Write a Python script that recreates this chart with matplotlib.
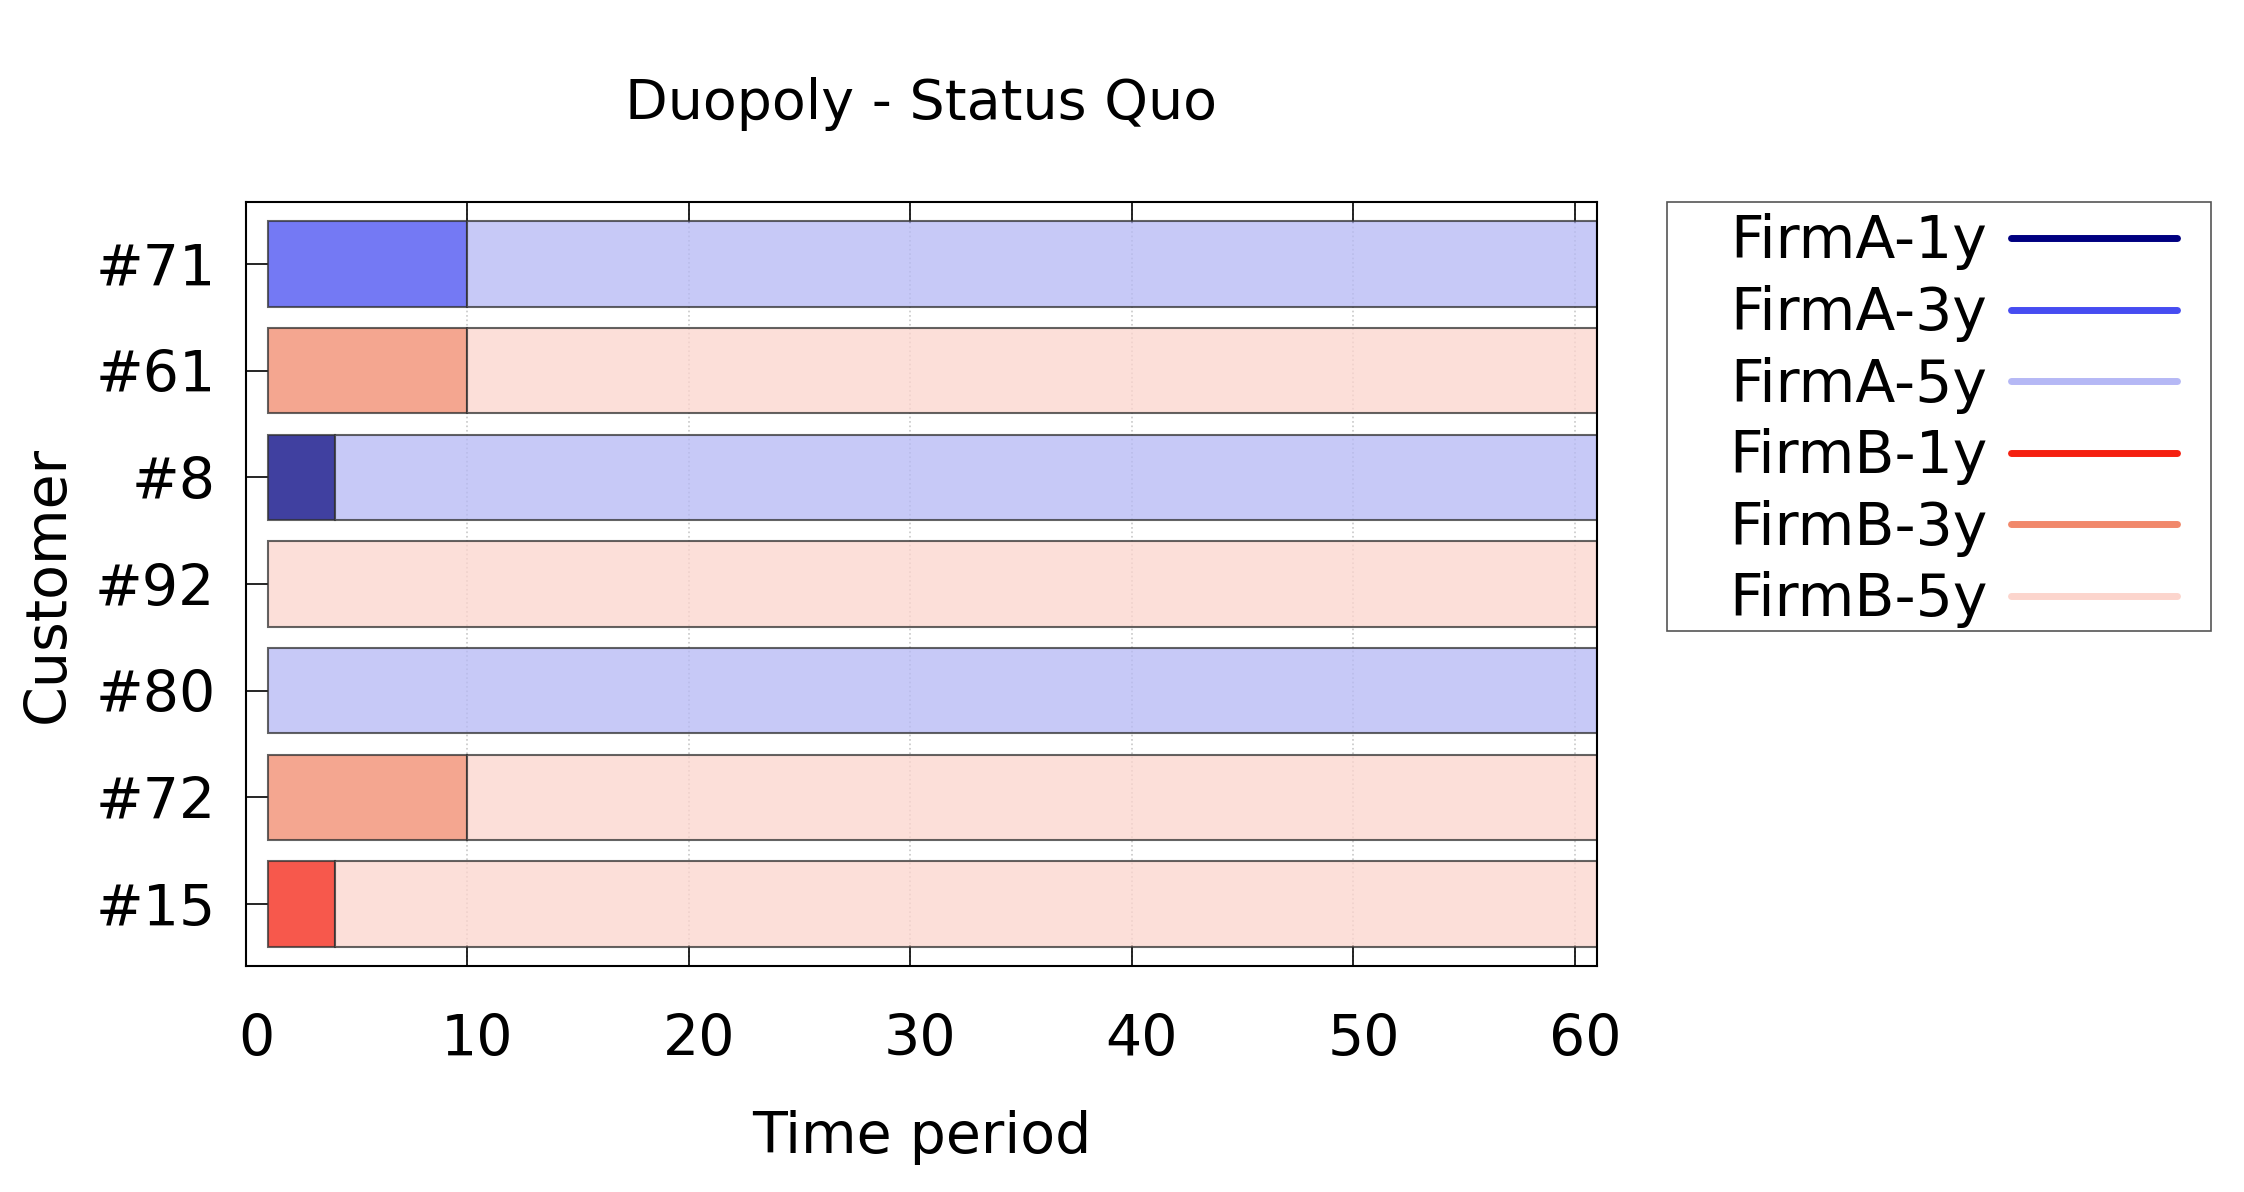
import matplotlib
matplotlib.use('Agg')
import matplotlib.pyplot as plt
import matplotlib.transforms as mtransforms
from matplotlib.lines import Line2D
from matplotlib.patches import Rectangle
import numpy as np

# Contract timeline per customer (top to bottom)
customers = ['#71', '#61', '#8', '#92', '#80', '#72', '#15']
first_contract = ['FirmA-3y', 'FirmB-3y', 'FirmA-1y', 'FirmB-5y', 'FirmA-5y', 'FirmB-3y', 'FirmB-1y']
second_contract = ['FirmA-5y', 'FirmB-5y', 'FirmA-5y', 'FirmB-5y', 'FirmA-5y', 'FirmB-5y', 'FirmB-5y']
start_period = [1, 1, 1, 1, 1, 1, 1]
switch_period = [10, 10, 4, 1, 1, 10, 4]
end_period = [61, 61, 61, 61, 61, 61, 61]

contract_types = ['FirmA-1y', 'FirmA-3y', 'FirmA-5y', 'FirmB-1y', 'FirmB-3y', 'FirmB-5y']
contract_colors = ['#000080', '#464cf1', '#b5b8f5', '#f52010', '#f1886b', '#fcd5cd']
colors = dict(zip(contract_types, contract_colors))

plt.rcParams['font.family'] = 'DejaVu Sans'

fig = plt.figure(figsize=(22.44, 11.92), dpi=100)
ax = fig.add_axes([0.1096, 0.1896, 0.6021, 0.6409])

y = np.arange(len(customers))
bar_h = 0.8

for i in range(len(customers)):
    w1 = switch_period[i] - start_period[i]
    if w1 > 0:
        ax.barh(y[i], w1, left=start_period[i], height=bar_h,
                color=colors[first_contract[i]], alpha=0.75,
                edgecolor='#303030', linewidth=1.5, zorder=2)
    ax.barh(y[i], end_period[i] - switch_period[i], left=switch_period[i], height=bar_h,
            color=colors[second_contract[i]], alpha=0.75,
            edgecolor='#303030', linewidth=1.5, zorder=2)

ax.set_xlim(0, 61)
ax.set_ylim(-0.58, len(customers) - 0.42)
ax.invert_yaxis()
ax.set_yticks(y)
ax.set_yticklabels(customers)
ax.set_xticks([0, 10, 20, 30, 40, 50, 60])

ax.grid(axis='x', linestyle=':', color='#c8c8c8', linewidth=1.2, zorder=0)
ax.tick_params(axis='x', direction='in', top=True, length=15, width=1.2,
               labelsize=41, pad=34)
ax.tick_params(axis='y', direction='in', length=16, width=1.2, labelsize=41, pad=22)
for s in ax.spines.values():
    s.set_linewidth(1.5)

# gnuplot puts the x tick labels slightly right of the tick
shift = mtransforms.ScaledTranslation(0.1, 0, fig.dpi_scale_trans)
for lab in ax.get_xticklabels():
    lab.set_transform(lab.get_transform() + shift)

ax.set_xlabel('Time period', fontsize=41, labelpad=30)
ax.set_ylabel('Customer', fontsize=41, labelpad=14)
ax.set_title('Duopoly - Status Quo', fontsize=40, pad=60)

# legend box drawn separately so the text can sit with a wide left margin
fig.patches.append(Rectangle((0.743, 0.4706), 0.2423, 0.3599, transform=fig.transFigure,
                             facecolor='white', edgecolor='#555555', linewidth=1.2, zorder=3))
handles = [Line2D([0], [0], color=c, lw=5, solid_capstyle='round') for c in contract_colors]
leg = fig.legend(handles, contract_types, loc='upper left', bbox_to_anchor=(0.7705, 0.821),
                 fontsize=42, markerfirst=False, handlelength=2.85, handletextpad=0.4,
                 labelspacing=0.25, borderpad=0, borderaxespad=0, frameon=False)
leg.set_zorder(4)

fig.savefig('out.png', dpi=100)
